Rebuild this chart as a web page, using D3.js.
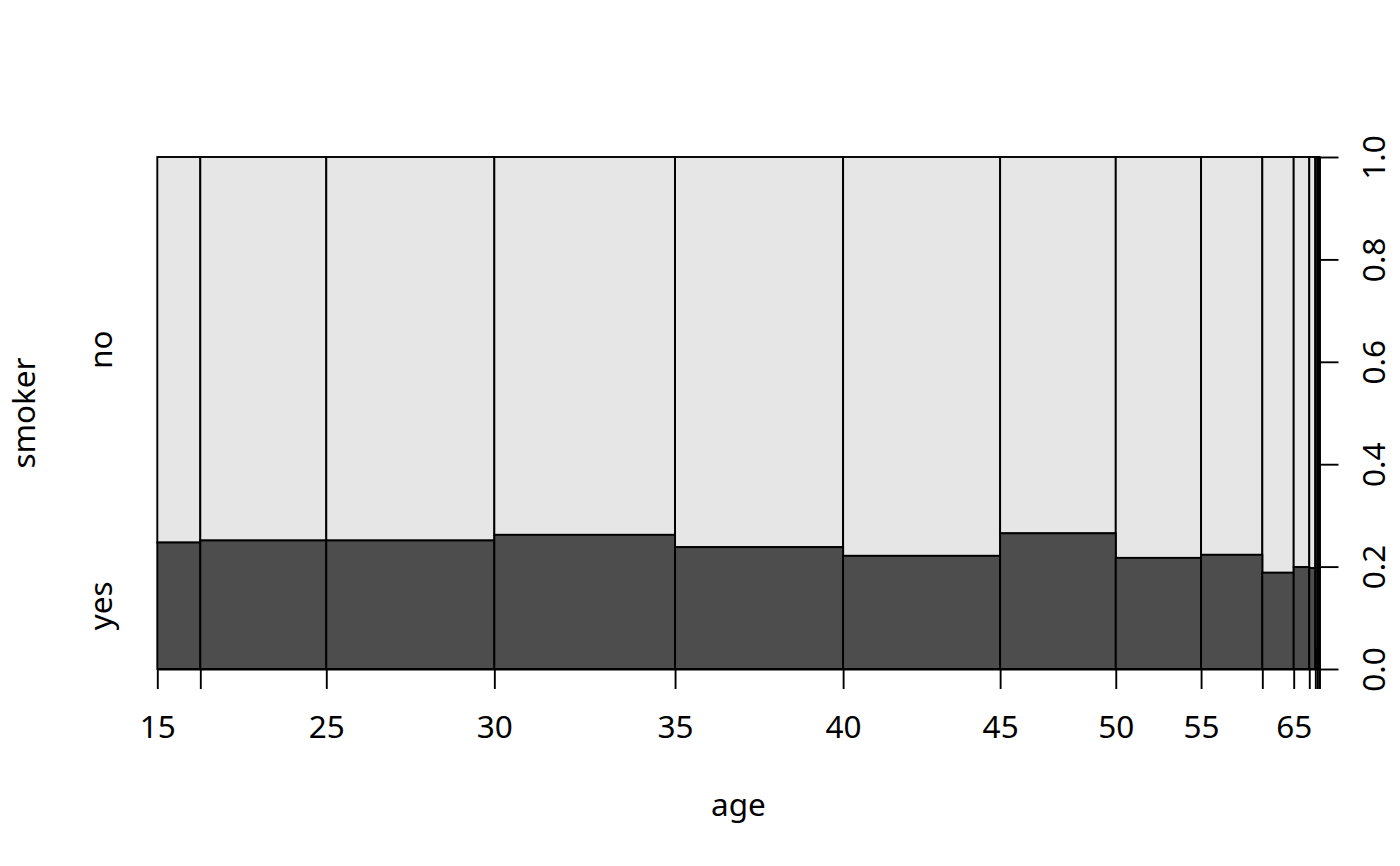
<!DOCTYPE html>
<html>
<head>
<meta charset="utf-8">
<script src="https://cdn.jsdelivr.net/npm/d3@7"></script>
<style>
  html, body { margin: 0; padding: 0; background: #fff; }
  svg text { font-family: "Noto Sans", "Open Sans", sans-serif; fill: #000; }
</style>
</head>
<body>
<svg id="chart" width="1400" height="866"></svg>
<script>
// ---- data ----
const breaks = [15, 20, 25, 30, 35, 40, 45, 50, 55, 60, 65, 70, 75, 80, 85, 90];
const binCounts = [370, 1084, 1446, 1555, 1446, 1351, 995, 734, 527, 270, 134, 52, 17, 13, 6];
const yesShare = [0.247, 0.251, 0.251, 0.262, 0.238, 0.221, 0.265, 0.217, 0.223, 0.188, 0.199, 0.197, 0.19, 0.04, 0.0];
const categories = ["yes", "no"];
const xTickLabels = ["15", "", "25", "30", "35", "40", "45", "50", "55", "", "65", "", "", "", "", ""];
const yTicks = [0, 0.2, 0.4, 0.6, 0.8, 1.0];
const xTitle = "age";
const yTitle = "smoker";

// ---- layout ----
const L = 157.3, R = 1319.5, T = 157, B = 669;
const fs = 31.5;
const lw = 1.9;
const colYes = "#4D4D4D", colNo = "#E6E6E6";

const svg = d3.select("#chart");
const total = d3.sum(binCounts);
const cum = [0];
binCounts.forEach((c, i) => cum.push(cum[i] + c));

const x = d3.scaleLinear().domain([0, total]).range([L, R]);
const y = d3.scaleLinear().domain([0, 1]).range([B, T]);

const bins = binCounts.map((c, i) => ({ x0: cum[i], x1: cum[i + 1], p: yesShare[i] }));

// "no" (top) rects
svg.append("g").selectAll("rect").data(bins).join("rect")
  .attr("x", d => x(d.x0)).attr("width", d => x(d.x1) - x(d.x0))
  .attr("y", y(1)).attr("height", d => y(d.p) - y(1))
  .attr("fill", colNo).attr("stroke", "#000").attr("stroke-width", lw);
// "yes" (bottom) rects
svg.append("g").selectAll("rect").data(bins).join("rect")
  .attr("x", d => x(d.x0)).attr("width", d => x(d.x1) - x(d.x0))
  .attr("y", d => y(d.p)).attr("height", d => y(0) - y(d.p))
  .attr("fill", colYes).attr("stroke", "#000").attr("stroke-width", lw);

// bottom axis
const xAxis = d3.axisBottom(x)
  .tickValues(cum)
  .tickFormat((d, i) => xTickLabels[i])
  .tickSize(20).tickSizeOuter(0).tickPadding(14);
const gx = svg.append("g").attr("transform", `translate(0,${B})`).call(xAxis);
gx.select(".domain").attr("stroke", "#000").attr("stroke-width", lw);
gx.selectAll(".tick line").attr("stroke", "#000").attr("stroke-width", lw);
gx.selectAll(".tick text").attr("font-size", fs).attr("font-family", "Noto Sans").attr("dy", null).attr("y", 69);

// right axis
const yAxis = d3.axisRight(y)
  .tickValues(yTicks)
  .tickFormat(d3.format(".1f"))
  .tickSize(19).tickSizeOuter(0);
const gy = svg.append("g").attr("transform", `translate(${R},0)`).call(yAxis);
gy.select(".domain").attr("stroke", "#000").attr("stroke-width", lw);
gy.selectAll(".tick line").attr("stroke", "#000").attr("stroke-width", lw);
gy.selectAll(".tick text")
  .attr("font-size", fs).attr("font-family", "Noto Sans")
  .attr("x", null).attr("dy", null)
  .attr("text-anchor", "middle")
  .attr("transform", "translate(65,0) rotate(-90)");

// left category labels (at the middle of the first bin's segments)
const first = bins[0];
const catPos = [(first.p) / 2, (1 + first.p) / 2];
svg.append("g").selectAll("text").data(categories).join("text")
  .attr("transform", (d, i) => `translate(112,${y(catPos[i])}) rotate(-90)`)
  .attr("text-anchor", "middle")
  .attr("font-size", fs)
  .text(d => d);

// titles
svg.append("text")
  .attr("x", (L + R) / 2).attr("y", 816)
  .attr("text-anchor", "middle").attr("font-size", fs)
  .text(xTitle);
svg.append("text")
  .attr("transform", `translate(35,${(T + B) / 2}) rotate(-90)`)
  .attr("text-anchor", "middle").attr("font-size", fs)
  .text(yTitle);
</script>
</body>
</html>
